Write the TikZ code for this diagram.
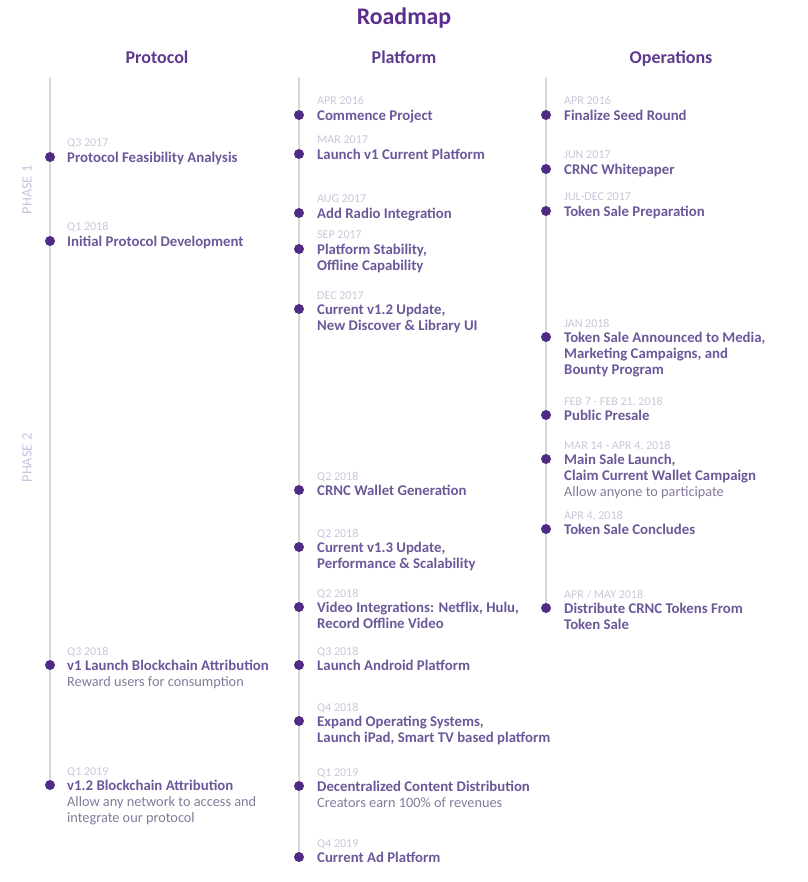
\documentclass[tikz,border=0pt]{standalone}
\usepackage{fontspec}
\setmainfont{Carlito}
\usetikzlibrary{positioning,backgrounds}

\definecolor{roadpurple}{HTML}{5B2D8C}
\definecolor{headpurple}{HTML}{5E3A8E}
\definecolor{itempurple}{HTML}{6C5899}
\definecolor{dotpurple}{HTML}{4F2B84}
\definecolor{datelilac}{HTML}{CCC5DA}
\definecolor{notegray}{HTML}{85799C}
\definecolor{railgray}{HTML}{D9D6E0}
\definecolor{phaselilac}{HTML}{CBBFE0}

\begin{document}
\begin{tikzpicture}[x=1pt, y=-1pt,
    dot/.style={circle, fill=dotpurple, inner sep=0pt, minimum size=10pt},
    event/.style={anchor=base west, inner sep=0pt, align=left, font=\fontsize{14.8}{16}\selectfont\bfseries, text=itempurple},
    note/.style={anchor=base west, inner sep=0pt, align=left, font=\fontsize{14.3}{16}\selectfont, text=notegray},
    date/.style={anchor=base west, inner sep=0pt, font=\fontsize{12}{13}\selectfont, text=datelilac},
    head/.style={anchor=base, font=\fontsize{18}{20}\selectfont\bfseries, text=headpurple},
    phase/.style={rotate=90, font=\fontsize{14.3}{15}\selectfont, text=phaselilac},
    rail/.style={draw=railgray, line width=1.5pt}
  ]
  \useasboundingbox (0,0) rectangle (807,882);

  % headings
  \node[head, font=\fontsize{23.8}{26}\selectfont\bfseries, text=roadpurple] (title) at (404,25) {Roadmap};
  \node[head] (protocol) at (157,64) {Protocol};
  \node[head] (platform) at (404,64) {Platform};
  \node[head] (operations) at (671,64) {Operations};

  \node[phase] (phase1) at (27,190) {PHASE 1};
  \node[phase] (phase2) at (27,458) {PHASE 2};

  % protocol column (\k = extra lines of the title)
  \foreach \n/\y/\d/\k/\t in {
      pro1/157/Q3 2017/0/Protocol Feasibility Analysis,
      pro2/241/Q1 2018/0/Initial Protocol Development,
      pro3/665/Q3 2018/0/v1 Launch Blockchain Attribution,
      pro4/785/Q1 2019/0/v1.2 Blockchain Attribution}{
    \node[dot] (\n) at (50,\y) {};
    \node[date] (\n-d) at (67,\y-10) {\d};
    \node[event] (\n-t) at (67,\y+5.5+16*\k) {\t};
  }
  \node[note] (pro3-n) at (67,681+5.5) {Reward users for consumption};
  \node[note] (pro4-n) at (67,817+5.5) {Allow any network to access and\\integrate our protocol};

  % platform column
  \foreach \n/\y/\d/\k/\t in {
      pla1/115/APR 2016/0/Commence Project,
      pla2/154/MAR 2017/0/Launch v1 Current Platform,
      pla3/213/AUG 2017/0/Add Radio Integration,
      pla4/249/SEP 2017/1/{Platform Stability,\\Offline Capability},
      pla5/309/DEC 2017/1/{Current v1.2 Update,\\New Discover \& Library UI},
      pla6/490/Q2 2018/0/CRNC Wallet Generation,
      pla7/547/Q2 2018/1/{Current v1.3 Update,\\Performance \& Scalability},
      pla8/607/Q2 2018/1/{Video Integrations: Netflix, Hulu,\\Record Offline Video},
      pla9/665/Q3 2018/0/Launch Android Platform,
      pla10/721/Q4 2018/1/{Expand Operating Systems,\\Launch iPad, Smart TV based platform},
      pla11/786/Q1 2019/0/Decentralized Content Distribution,
      pla12/857/Q4 2019/0/Current Ad Platform}{
    \node[dot] (\n) at (299,\y) {};
    \node[date] (\n-d) at (317,\y-10) {\d};
    \node[event] (\n-t) at (317,\y+5.5+16*\k) {\t};
  }
  \node[note] (pla11-n) at (317,802+5.5) {Creators earn 100\% of revenues};

  % operations column
  \foreach \n/\y/\d/\k/\t in {
      ops1/115/APR 2016/0/Finalize Seed Round,
      ops2/169/JUN 2017/0/CRNC Whitepaper,
      ops3/211/JUL-DEC 2017/0/Token Sale Preparation,
      ops4/337/JAN 2018/2/{Token Sale Announced to Media,\\Marketing Campaigns, and\\Bounty Program},
      ops5/415/{FEB 7 - FEB 21, 2018}/0/Public Presale,
      ops6/459/{MAR 14 - APR 4, 2018}/1/{Main Sale Launch,\\Claim Current Wallet Campaign},
      ops7/529/{APR 4, 2018}/0/Token Sale Concludes,
      ops8/608/{APR / MAY 2018}/1/{Distribute CRNC Tokens From\\Token Sale}}{
    \node[dot] (\n) at (546,\y) {};
    \node[date] (\n-d) at (564,\y-10) {\d};
    \node[event] (\n-t) at (564,\y+5.5+16*\k) {\t};
  }
  \node[note] (ops6-n) at (564,491+5.5) {Allow anyone to participate};

  % rails behind the dots
  \coordinate (protop) at (50,77);
  \coordinate (platop) at (299,77);
  \coordinate (opstop) at (546,77);
  \begin{scope}[on background layer]
    \draw[rail] (protop) -- (pro4.center);
    \draw[rail] (platop) -- (pla12.center);
    \draw[rail] (opstop) -- (ops8.center);
  \end{scope}
\end{tikzpicture}
\end{document}
